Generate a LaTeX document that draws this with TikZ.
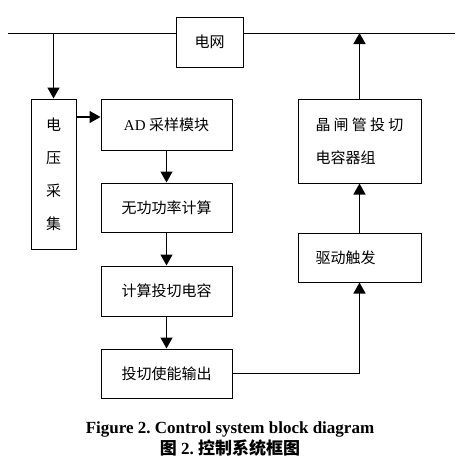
\documentclass[tikz,border=0pt]{standalone}
\usepackage{fontspec}
\setmainfont{Liberation Serif}
\newfontfamily\cjk{Noto Sans CJK SC}
\usetikzlibrary{arrows.meta}
\begin{document}
\frenchspacing
\begin{tikzpicture}[x=1pt,y=-1pt]
  \tikzset{blk box/.style={draw,line width=1pt,minimum width=#1,inner sep=0pt,font=\cjk\fontsize{15pt}{18pt}\selectfont},
    blk arrow/.style={line width=1.4pt,-{Triangle[length=11pt,width=12pt]}},
    cap text/.style={font=\bfseries\fontsize{17pt}{20pt}\selectfont}}
  \useasboundingbox (0,0) rectangle (459,461);

  \node [blk box=67pt,minimum height=50pt] (grid) at (209.5,42) {电网};
  \node [blk box=45pt,minimum height=150pt,align=center,font=\cjk\fontsize{15pt}{33pt}\selectfont] (volt) at (53.5,174) {电\\压\\采\\集};
  \node [blk box=131pt,minimum height=51pt] (AD) at (166.5,124.5) {{\rmfamily AD} 采样模块};
  \node [blk box=131pt,minimum height=49pt] (Q) at (166.5,207.5) {无功功率计算};
  \node [blk box=131pt,minimum height=50pt] (C) at (166.5,291) {计算投切电容};
  \node [blk box=131pt,minimum height=49pt] (O) at (166.5,373.5) {投切使能输出};
  \node [blk box=123pt,minimum height=84pt,text width=88pt,align=left,font=\cjk\fontsize{15pt}{33pt}\selectfont] (T) at (359.5,141) {晶\hspace{3.2pt}闸\hspace{3.2pt}管\hspace{3.2pt}投\hspace{3.2pt}切\\电容器组};
  \node [blk box=123pt,minimum height=49pt,text width=88pt,align=left] (D) at (359.5,257.5) {驱动触发};

  \coordinate (L) at (8,33);
  \coordinate (R) at (455,33);
  \coordinate (adin) at ([yshift=7.5pt]AD.west);
  \draw [line width=1pt] (L) -- (L -| grid.west) (grid.east |- R) -- (R);
  \draw [blk arrow] (L -| volt.north) -- (volt.north);
  \draw [blk arrow] (adin -| volt.east) -- (adin);
  \draw [blk arrow] (AD) -- (Q);
  \draw [blk arrow] (Q) -- (C);
  \draw [blk arrow] (C) -- (O);
  \draw [blk arrow] (O.east) -| (D.south);
  \draw [blk arrow] (D) -- (T);
  \draw [blk arrow] (T.north) -- (T.north |- R);

  \node [cap text] (cap) at (230,429) {Figure 2. Control system block diagram};
  \node [cap text] (capcn) at (230,448) {{\cjk 图} 2. {\cjk 控制系统框图}};
\end{tikzpicture}
\end{document}
